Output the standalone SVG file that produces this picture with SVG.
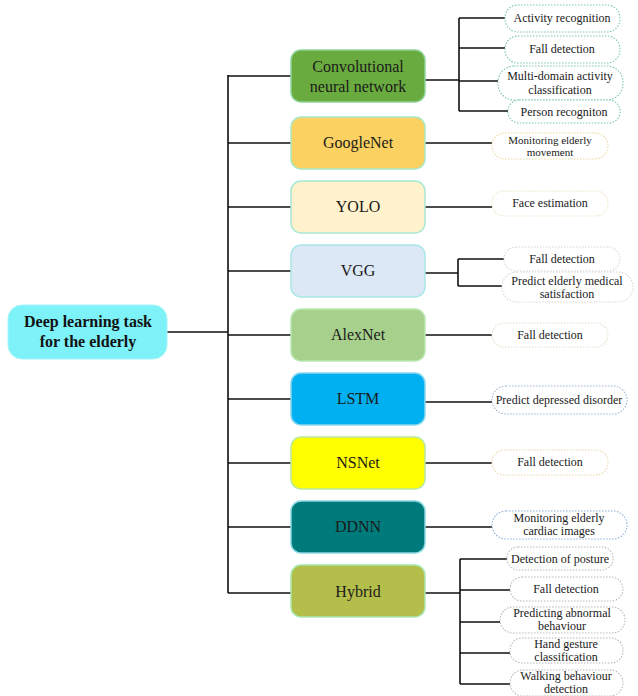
<svg xmlns="http://www.w3.org/2000/svg" width="638" height="696" viewBox="0 0 638 696">
  <style>
    .wire { stroke: #111; stroke-width: 1.6; fill: none; }
    .mid { stroke-width: 1.5; }
    text { font-family: 'Liberation Serif', 'DejaVu Serif', serif; fill: #1a1a1a; text-anchor: middle; }
    .midtxt { font-size: 16px; }
    .leaf { fill: #ffffff; stroke-width: 1.1; stroke-dasharray: 1.5 1.5; }
    .leaftxt { font-size: 12px; }
    .small { font-size: 11px; }
    .roottxt { font-size: 16px; font-weight: bold; fill: #111; }
  </style>
  <rect width="638" height="696" fill="#ffffff"/>

  <!-- connectors -->
  <g id="connectors">
    <!-- root to trunk -->
    <path class="wire" d="M167 332 H228 M228 75 V593"/>
    <path class="wire" d="M228 76 H291 M228 143 H291 M228 207 H291 M228 271 H291 M228 335 H291 M228 399 H291 M228 463 H291 M228 527 H291 M228 593 H291"/>
    <!-- CNN fan -->
    <path class="wire" d="M425 80 H459 M459 18 V111 M459 18 H505 M459 48 H505 M459 81 H498 M459 111 H508"/>
    <!-- single branches -->
    <path class="wire" d="M425 143 H492 M425 207 H492 M425 335 H492 M425 402 H492 M425 463 H492 M425 527 H492"/>
    <!-- VGG fan -->
    <path class="wire" d="M425 273 H458 M458 259 V286 M458 259 H504 M458 286 H502"/>
    <!-- Hybrid fan -->
    <path class="wire" d="M425 593 H460 M460 559 V684 M460 559 H507 M460 590 H510 M460 622 H500 M460 653 H510 M460 684 H510"/>
  </g>

  <!-- root -->
  <g id="root">
    <rect x="8" y="305" width="159" height="54" rx="14" fill="#7df2f8" stroke="#a8f5f8" stroke-width="1"/>
    <text class="roottxt" x="88" y="327" font-family="Liberation Serif, DejaVu Serif, serif">Deep learning task</text>
    <text class="roottxt" x="88" y="347" font-family="Liberation Serif, DejaVu Serif, serif">for the elderly</text>
  </g>

  <!-- second level -->
  <g id="cnn">
    <rect class="mid" x="291" y="50" width="134" height="52" rx="10" fill="#6aab3f" stroke="#8fd39a"/>
    <text class="midtxt" x="358" y="72">Convolutional</text>
    <text class="midtxt" x="358" y="92">neural network</text>
  </g>
  <g id="googlenet">
    <rect class="mid" x="291" y="117" width="134" height="52" rx="10" fill="#fbd262" stroke="#a9e8c8"/>
    <text class="midtxt" x="358" y="148">GoogleNet</text>
  </g>
  <g id="yolo">
    <rect class="mid" x="291" y="181" width="134" height="52" rx="10" fill="#fff2cc" stroke="#a9e8d2"/>
    <text class="midtxt" x="358" y="212">YOLO</text>
  </g>
  <g id="vgg">
    <rect class="mid" x="291" y="245" width="134" height="52" rx="10" fill="#dce8f5" stroke="#a9e8e6"/>
    <text class="midtxt" x="358" y="276">VGG</text>
  </g>
  <g id="alexnet">
    <rect class="mid" x="291" y="309" width="134" height="52" rx="10" fill="#a8d08d" stroke="#b9e8b0"/>
    <text class="midtxt" x="358" y="340">AlexNet</text>
  </g>
  <g id="lstm">
    <rect class="mid" x="291" y="373" width="134" height="52" rx="10" fill="#00b0f0" stroke="#8ad8f0"/>
    <text class="midtxt" x="358" y="404">LSTM</text>
  </g>
  <g id="nsnet">
    <rect class="mid" x="291" y="437" width="134" height="52" rx="10" fill="#ffff00" stroke="#b9e8a0"/>
    <text class="midtxt" x="358" y="468">NSNet</text>
  </g>
  <g id="ddnn">
    <rect class="mid" x="291" y="501" width="134" height="52" rx="10" fill="#007b7b" stroke="#8ad8e0"/>
    <text class="midtxt" x="358" y="532">DDNN</text>
  </g>
  <g id="hybrid">
    <rect class="mid" x="291" y="565" width="134" height="52" rx="10" fill="#b4be4a" stroke="#a9e8b0"/>
    <text class="midtxt" x="358" y="597">Hybrid</text>
  </g>

  <!-- leaves: CNN -->
  <g id="cnn-activity">
    <rect class="leaf" x="505" y="5" width="115" height="27" rx="13" stroke="#7cc8a8"/>
    <text class="leaftxt" x="562" y="22">Activity recognition</text>
  </g>
  <g id="cnn-fall">
    <rect class="leaf" x="505" y="36" width="115" height="27" rx="13" stroke="#7cc8a8"/>
    <text class="leaftxt" x="562" y="53">Fall detection</text>
  </g>
  <g id="cnn-multidomain">
    <rect class="leaf" x="498" y="66" width="125" height="34" rx="16" stroke="#7cc8a8"/>
    <text class="leaftxt" x="560" y="80">Multi-domain activity</text>
    <text class="leaftxt" x="560" y="94">classification</text>
  </g>
  <g id="cnn-person">
    <rect class="leaf" x="508" y="100" width="112" height="23" rx="11" stroke="#7cc8a8"/>
    <text class="leaftxt" x="564" y="116">Person recogniton</text>
  </g>

  <!-- leaves: GoogleNet, YOLO -->
  <g id="googlenet-movement">
    <rect class="leaf" x="492" y="133" width="116" height="26" rx="13" stroke="#ead9a0"/>
    <text class="leaftxt small" x="550" y="144">Monitoring elderly</text>
    <text class="leaftxt small" x="550" y="156">movement</text>
  </g>
  <g id="yolo-face">
    <rect class="leaf" x="492" y="191" width="116" height="25" rx="12" stroke="#eee2c4"/>
    <text class="leaftxt" x="550" y="207">Face estimation</text>
  </g>

  <!-- leaves: VGG -->
  <g id="vgg-fall">
    <rect class="leaf" x="504" y="247" width="116" height="24" rx="12" stroke="#d8d8d8"/>
    <text class="leaftxt" x="562" y="263">Fall detection</text>
  </g>
  <g id="vgg-satisfaction">
    <rect class="leaf" x="502" y="272" width="131" height="30" rx="15" stroke="#d8d8d8"/>
    <text class="leaftxt" x="567" y="285">Predict elderly medical</text>
    <text class="leaftxt" x="567" y="298">satisfaction</text>
  </g>

  <!-- leaves: AlexNet, LSTM, NSNet, DDNN -->
  <g id="alexnet-fall">
    <rect class="leaf" x="492" y="323" width="116" height="24" rx="12" stroke="#dde2c8"/>
    <text class="leaftxt" x="550" y="339">Fall detection</text>
  </g>
  <g id="lstm-depressed">
    <rect class="leaf" x="492" y="386" width="135" height="28" rx="14" stroke="#9fb8cc"/>
    <text class="leaftxt" x="559" y="404">Predict depressed disorder</text>
  </g>
  <g id="nsnet-fall">
    <rect class="leaf" x="492" y="450" width="116" height="25" rx="12" stroke="#e8d8a8"/>
    <text class="leaftxt" x="550" y="466">Fall detection</text>
  </g>
  <g id="ddnn-cardiac">
    <rect class="leaf" x="492" y="511" width="135" height="28" rx="14" stroke="#8cb0d8"/>
    <text class="leaftxt" x="559" y="522">Monitoring elderly</text>
    <text class="leaftxt" x="559" y="535">cardiac images</text>
  </g>

  <!-- leaves: Hybrid -->
  <g id="hybrid-posture">
    <rect class="leaf" x="507" y="547" width="106" height="23" rx="11" stroke="#b8b8b8"/>
    <text class="leaftxt" x="560" y="563">Detection of posture</text>
  </g>
  <g id="hybrid-fall">
    <rect class="leaf" x="510" y="577" width="113" height="24" rx="12" stroke="#b8b8b8"/>
    <text class="leaftxt" x="566" y="593">Fall detection</text>
  </g>
  <g id="hybrid-abnormal">
    <rect class="leaf" x="500" y="607" width="125" height="26" rx="13" stroke="#b8b8b8"/>
    <text class="leaftxt" x="562" y="617">Predicting abnormal</text>
    <text class="leaftxt" x="562" y="630">behaviour</text>
  </g>
  <g id="hybrid-gesture">
    <rect class="leaf" x="510" y="638" width="113" height="25" rx="12" stroke="#b8b8b8"/>
    <text class="leaftxt" x="566" y="648">Hand gesture</text>
    <text class="leaftxt" x="566" y="661">classification</text>
  </g>
  <g id="hybrid-walking">
    <rect class="leaf" x="510" y="670" width="113" height="26" rx="13" stroke="#b8b8b8"/>
    <text class="leaftxt" x="566" y="680">Walking behaviour</text>
    <text class="leaftxt" x="566" y="693">detection</text>
  </g>
</svg>
